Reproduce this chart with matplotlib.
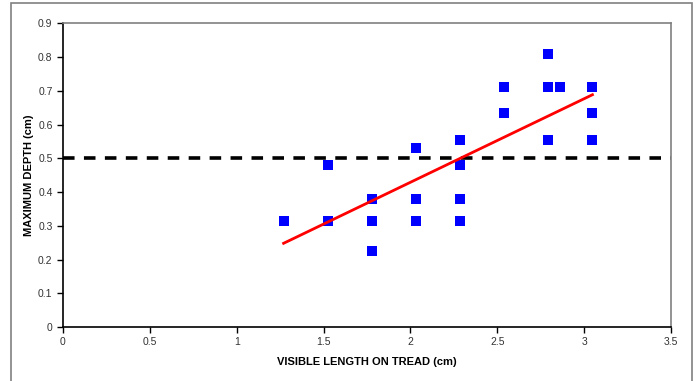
import matplotlib
matplotlib.use('Agg')
import matplotlib.pyplot as plt
from matplotlib.patches import Rectangle
import numpy as np

plt.rcParams['font.family'] = ['Liberation Sans', 'DejaVu Sans']

# visible length on tread (cm) and maximum depth (cm)
length_cm = [1.27, 1.524, 1.524, 1.778, 1.778, 1.778,
             2.032, 2.032, 2.032, 2.286, 2.286, 2.286, 2.286,
             2.54, 2.54, 2.794, 2.794, 2.794, 2.86,
             3.048, 3.048, 3.048]
depth_cm = [0.314, 0.48, 0.314, 0.378, 0.314, 0.226,
            0.53, 0.378, 0.314, 0.555, 0.48, 0.378, 0.314,
            0.711, 0.635, 0.81, 0.711, 0.555, 0.711,
            0.711, 0.635, 0.555]
threshold = 0.5

x = np.array(length_cm)
y = np.array(depth_cm)
slope, icpt = np.polyfit(x, y, 1)
fit_x = np.array([x.min(), x.max()])
fit_y = slope * fit_x + icpt

fig = plt.figure(figsize=(6.96, 3.81), dpi=100)
ax = fig.add_axes([0.0905, 0.1417, 0.8735, 0.7971])

# outer chart frame
fig.patches.append(Rectangle((10.5 / 696, -0.05), 681 / 696, 1.05 - 3.5 / 381,
                             transform=fig.transFigure, fill=False,
                             edgecolor='#808080', linewidth=1.2))

ax.plot([0, 3.5], [threshold, threshold], color='black', linewidth=2.6,
        linestyle=(0, (3.2, 2.6)), zorder=2)
ax.scatter(x, y, marker='s', s=55, color='#0000FF', zorder=3, linewidths=0)
ax.plot(fit_x, fit_y, color='#FF0000', linewidth=2.0, zorder=4)

ax.set_xlim(0, 3.5)
ax.set_ylim(0, 0.9)
ax.set_xticks(np.arange(0, 3.51, 0.5))
ax.set_yticks(np.arange(0, 0.91, 0.1))
ax.set_xticklabels(['0', '0.5', '1', '1.5', '2', '2.5', '3', '3.5'])
ax.set_yticklabels(['0', '0.1', '0.2', '0.3', '0.4', '0.5', '0.6', '0.7', '0.8', '0.9'])
ax.tick_params(labelsize=7.5, colors='black', labelcolor='#333333', length=4, width=1)

for side in ['left', 'bottom']:
    ax.spines[side].set_color('black')
    ax.spines[side].set_linewidth(1.2)
for side in ['top', 'right']:
    ax.spines[side].set_color('#808080')
    ax.spines[side].set_linewidth(1.2)

ax.set_xlabel('VISIBLE LENGTH ON TREAD (cm)', fontsize=8, fontweight='bold', labelpad=7)
ax.set_ylabel('MAXIMUM DEPTH (cm)', fontsize=8, fontweight='bold', labelpad=3)

fig.savefig('out.png', dpi=100)
